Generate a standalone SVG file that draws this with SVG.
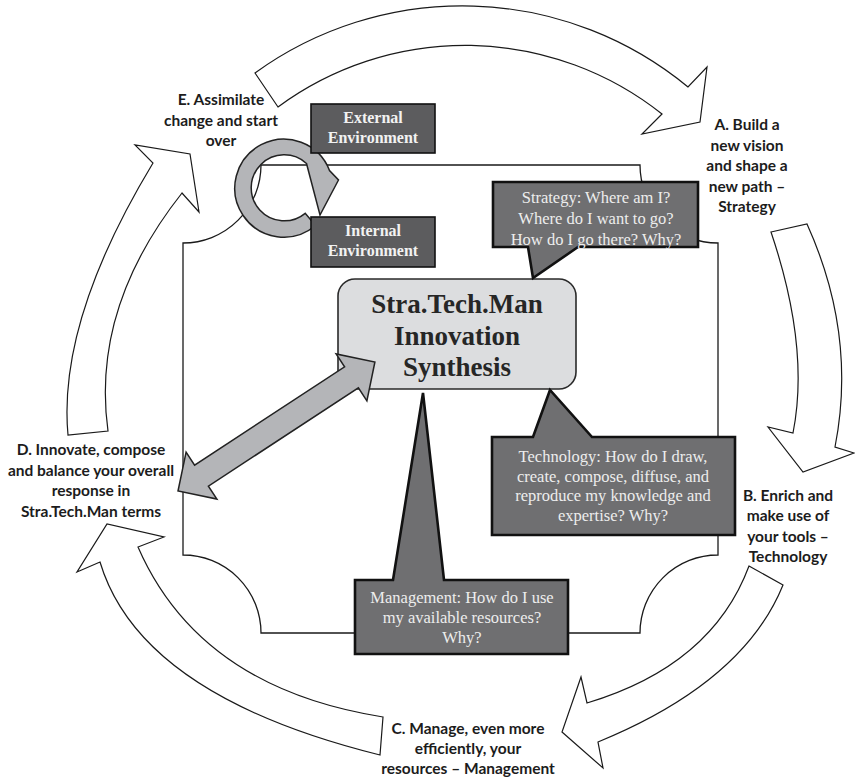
<svg xmlns="http://www.w3.org/2000/svg" width="855" height="779" viewBox="0 0 855 779">
<style>
.cyc{fill:#fff;stroke:#1a1a1a;stroke-width:1.2;stroke-linejoin:miter}
.frame{fill:none;stroke:#1a1a1a;stroke-width:1.3}
.lbl{font-family:Lato,"Open Sans",sans-serif;font-weight:bold;font-size:15.5px;fill:#1c1c1c;text-anchor:middle}
.call{fill:#6f6f71;stroke:#111;stroke-width:2.6;stroke-linejoin:miter}
.ctxt{font-family:"Liberation Serif",serif;font-size:16.5px;fill:#ededed;text-anchor:middle}
.env{fill:#5c5c5e;stroke:#111;stroke-width:1.6}
.etxt{font-family:"Liberation Serif",serif;font-weight:bold;font-size:16px;fill:#f2f2f2;text-anchor:middle}
.core{fill:#dcdddf;stroke:#2a2a2a;stroke-width:1.6}
.ktxt{font-family:"Liberation Serif",serif;font-weight:bold;font-size:27px;fill:#262626;text-anchor:middle}
.gray{fill:#b4b5b8;stroke:#222;stroke-width:1.5;stroke-linejoin:miter}
</style>
<g id="cycle-arrows">
<path id="arrow-E-A" class="cyc" d="M255,73 A354,354 0 0 1 688,87 L707,67 L700,122 L642,134 L662,114 A316,316 0 0 0 278,107 Z"/>
<path id="arrow-A-B" class="cyc" d="M771,232 L807,224 Q857,334.5 835,447 L854,453 L803,472 L768,427 L793,433 Q810,347.5 771,232 Z"/>
<path id="arrow-B-C" class="cyc" d="M749,566 L783,585 Q743.5,682.5 598,742 L603,768 L562,732 L581,677 L587,703 Q712,665.5 749,566 Z"/>
<path id="arrow-C-D" class="cyc" d="M383,717 L380,755 Q140,695.5 100,562 L77,572 L107,524 L164,537 L138,547 Q199.5,688 383,717 Z"/>
<path id="arrow-D-E" class="cyc" d="M68,435 Q57.5,321 153,163 L135,145 L190,154 L199,212 L182,193 Q91,308 108,431 Z"/>
</g>
<g id="frame">
<path class="frame" d="M261,165 H640 A78,78 0 0 0 718,243 V555 A78,78 0 0 0 640,633 H261 A78,78 0 0 0 183,555 V243 A78,78 0 0 0 261,165 Z"/>
</g>
<g id="env-cycle">
<path class="gray" d="M315.5,225.5 A49,49 0 1 1 329.5,170.5 L338.5,180 L320,215 L306.5,163.5 A33,33 0 1 0 305.2,213.3 Z"/>
</g>
<g id="external-env">
<rect class="env" x="311" y="104" width="124" height="49"/>
<text class="etxt" x="373" y="123">External</text>
<text class="etxt" x="373" y="143">Environment</text>
</g>
<g id="internal-env">
<rect class="env" x="311" y="217" width="124" height="50"/>
<text class="etxt" x="373" y="236">Internal</text>
<text class="etxt" x="373" y="256">Environment</text>
</g>
<g id="core">
<rect class="core" x="338" y="279" width="238" height="110" rx="17"/>
<text class="ktxt" x="457" y="313">Stra.Tech.Man</text>
<text class="ktxt" x="457" y="344.5">Innovation</text>
<text class="ktxt" x="457" y="376">Synthesis</text>
</g>
<g id="strategy">
<path class="call" d="M493,182 H698 V247 H578 L533,278 L528,247 H493 Z"/>
<text class="ctxt" x="596" y="202.5">Strategy: Where am I?</text>
<text class="ctxt" x="596" y="223.5">Where do I want to go?</text>
<text class="ctxt" x="596" y="244.5">How do I go there? Why?</text>
</g>
<g id="technology">
<path class="call" d="M492,437 H533 L550,390 L592,437 H735 V535 H492 Z"/>
<text class="ctxt" x="613" y="462">Technology: How do I draw,</text>
<text class="ctxt" x="613" y="481.5">create, compose, diffuse, and</text>
<text class="ctxt" x="613" y="501">reproduce my knowledge and</text>
<text class="ctxt" x="613" y="520.5">expertise? Why?</text>
</g>
<g id="management">
<path class="call" d="M355,580 H393 L423,393 L444,580 H568 V654 H355 Z"/>
<text class="ctxt" x="462" y="603">Management: How do I use</text>
<text class="ctxt" x="462" y="623">my available resources?</text>
<text class="ctxt" x="462" y="643">Why?</text>
</g>
<g id="connectors">
<path id="double-arrow" class="gray" d="M178,491 L186.1,452.1 L194.6,465.1 L344.6,366.9 L336.1,353.9 L374.9,362 L366.9,400.9 L358.4,387.9 L208.4,486.1 L216.9,499.1 Z"/>
</g>
<g id="label-A">
<text class="lbl" x="747" y="130">A. Build a</text>
<text class="lbl" x="747" y="150.5">new vision</text>
<text class="lbl" x="747" y="171">and shape a</text>
<text class="lbl" x="747" y="191.5">new path –</text>
<text class="lbl" x="747" y="212">Strategy</text>
</g>
<g id="label-B">
<text class="lbl" x="788" y="501">B. Enrich and</text>
<text class="lbl" x="788" y="521">make use of</text>
<text class="lbl" x="788" y="541.5">your tools –</text>
<text class="lbl" x="788" y="562">Technology</text>
</g>
<g id="label-C">
<text class="lbl" x="468" y="734">C. Manage, even more</text>
<text class="lbl" x="468" y="754">efficiently, your</text>
<text class="lbl" x="468" y="774">resources – Management</text>
</g>
<g id="label-D">
<text class="lbl" x="91" y="455">D. Innovate, compose</text>
<text class="lbl" x="91" y="475.5">and balance your overall</text>
<text class="lbl" x="91" y="496">response in</text>
<text class="lbl" x="91" y="516.5">Stra.Tech.Man terms</text>
</g>
<g id="label-E">
<text class="lbl" x="221" y="105">E. Assimilate</text>
<text class="lbl" x="221" y="126">change and start</text>
<text class="lbl" x="221" y="146">over</text>
</g>
</svg>
